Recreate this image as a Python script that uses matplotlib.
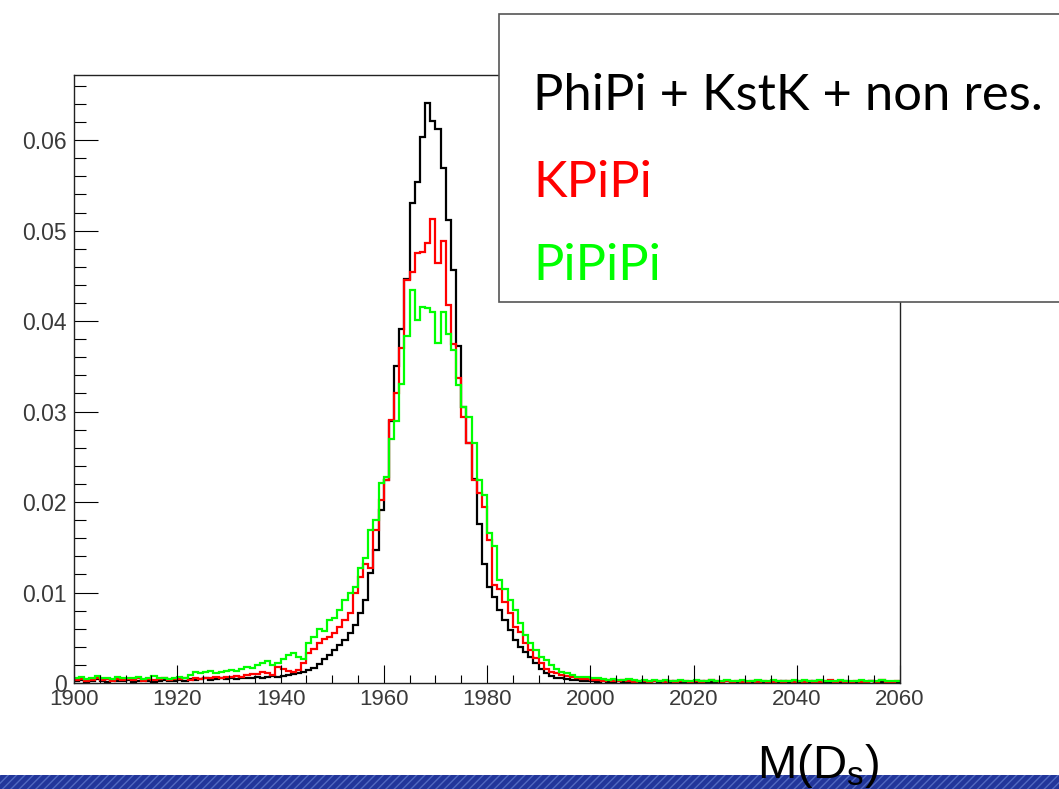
import numpy as np
import matplotlib
matplotlib.use("Agg")
from matplotlib import pyplot as plt
from matplotlib.ticker import MultipleLocator, FuncFormatter
from matplotlib.patches import Rectangle

# 1 MeV bins from 1900 to 2060
edges = np.arange(1900, 2061, 1)

phipi_kstk = [
    0.0002, 0.0003, 0.0001, 0.0002, 0.0004, 0.0002, 0.0001, 0.0003, 0.0002, 0.0002,
    0.0003, 0.0001, 0.0002, 0.0003, 0.0002, 0.0001, 0.0002, 0.0003, 0.0002, 0.0002,
    0.0003, 0.0002, 0.0004, 0.0003, 0.0004, 0.0005, 0.0003, 0.0004, 0.0005, 0.0004,
    0.0005, 0.0004, 0.0006, 0.0005, 0.0006, 0.0007, 0.0006, 0.0007, 0.0008, 0.0007,
    0.0008, 0.0009, 0.0010, 0.0011, 0.0012, 0.0014, 0.0017, 0.0021, 0.0026, 0.0031,
    0.0037, 0.0042, 0.0048, 0.0055, 0.0064, 0.0077, 0.0092, 0.0122, 0.0147, 0.0191,
    0.0224, 0.0290, 0.0350, 0.0391, 0.0447, 0.0530, 0.0554, 0.0604, 0.0641, 0.0621,
    0.0612, 0.0569, 0.0512, 0.0456, 0.0372, 0.0305, 0.0265, 0.0226, 0.0176, 0.0132,
    0.0106, 0.0095, 0.0081, 0.0070, 0.0059, 0.0048, 0.0040, 0.0034, 0.0029, 0.0022,
    0.0015, 0.0011, 0.0008, 0.0006, 0.0005, 0.0004, 0.0003, 0.0003, 0.0002, 0.0002,
    0.0002, 0.0001, 0.0002, 0.0001, 0.0001, 0.0002, 0.0001, 0.0001, 0.0002, 0.0001,
    0.0001, 0.0001, 0.0002, 0.0001, 0.0001, 0.0001, 0.0002, 0.0001, 0.0001, 0.0001,
    0.0001, 0.0002, 0.0001, 0.0001, 0.0001, 0.0001, 0.0002, 0.0001, 0.0001, 0.0001,
    0.0001, 0.0001, 0.0002, 0.0001, 0.0001, 0.0001, 0.0001, 0.0002, 0.0001, 0.0001,
    0.0001, 0.0001, 0.0001, 0.0002, 0.0001, 0.0001, 0.0001, 0.0001, 0.0001, 0.0002,
    0.0001, 0.0001, 0.0001, 0.0001, 0.0002, 0.0001, 0.0001, 0.0001, 0.0001, 0.0001,
]

kpipi = [
    0.0003, 0.0004, 0.0002, 0.0003, 0.0005, 0.0003, 0.0004, 0.0002, 0.0004, 0.0003,
    0.0004, 0.0003, 0.0005, 0.0002, 0.0004, 0.0003, 0.0004, 0.0005, 0.0003, 0.0004,
    0.0004, 0.0005, 0.0003, 0.0005, 0.0004, 0.0006, 0.0005, 0.0007, 0.0006, 0.0007,
    0.0007, 0.0008, 0.0007, 0.0009, 0.0010, 0.0010, 0.0012, 0.0011, 0.0009, 0.0018,
    0.0016, 0.0013, 0.0012, 0.0014, 0.0022, 0.0033, 0.0038, 0.0044, 0.0049, 0.0051,
    0.0055, 0.0062, 0.0070, 0.0077, 0.0099, 0.0117, 0.0132, 0.0127, 0.0169, 0.0202,
    0.0224, 0.0291, 0.0320, 0.0370, 0.0445, 0.0454, 0.0475, 0.0476, 0.0486, 0.0513,
    0.0464, 0.0489, 0.0418, 0.0375, 0.0337, 0.0294, 0.0265, 0.0224, 0.0210, 0.0195,
    0.0158, 0.0108, 0.0104, 0.0090, 0.0077, 0.0062, 0.0056, 0.0044, 0.0036, 0.0028,
    0.0022, 0.0016, 0.0012, 0.0011, 0.0009, 0.0008, 0.0007, 0.0005, 0.0004, 0.0004,
    0.0003, 0.0003, 0.0002, 0.0003, 0.0002, 0.0002, 0.0003, 0.0002, 0.0001, 0.0002,
    0.0002, 0.0001, 0.0002, 0.0002, 0.0001, 0.0002, 0.0001, 0.0002, 0.0002, 0.0001,
    0.0002, 0.0001, 0.0002, 0.0003, 0.0002, 0.0001, 0.0002, 0.0001, 0.0002, 0.0001,
    0.0001, 0.0002, 0.0001, 0.0002, 0.0001, 0.0001, 0.0002, 0.0001, 0.0002, 0.0001,
    0.0002, 0.0001, 0.0002, 0.0001, 0.0001, 0.0002, 0.0003, 0.0001, 0.0002, 0.0001,
    0.0001, 0.0002, 0.0001, 0.0001, 0.0002, 0.0001, 0.0003, 0.0001, 0.0001, 0.0002,
]

pipipi = [
    0.0005, 0.0007, 0.0004, 0.0006, 0.0008, 0.0005, 0.0006, 0.0004, 0.0007, 0.0005,
    0.0006, 0.0005, 0.0007, 0.0004, 0.0006, 0.0008, 0.0005, 0.0006, 0.0004, 0.0006,
    0.0007, 0.0006, 0.0009, 0.0012, 0.0011, 0.0012, 0.0013, 0.0011, 0.0012, 0.0013,
    0.0014, 0.0013, 0.0016, 0.0018, 0.0017, 0.0020, 0.0022, 0.0024, 0.0020, 0.0022,
    0.0026, 0.0031, 0.0033, 0.0029, 0.0027, 0.0044, 0.0051, 0.0060, 0.0058, 0.0070,
    0.0072, 0.0081, 0.0092, 0.0099, 0.0106, 0.0127, 0.0138, 0.0169, 0.0180, 0.0221,
    0.0228, 0.0270, 0.0290, 0.0330, 0.0383, 0.0434, 0.0401, 0.0416, 0.0414, 0.0410,
    0.0376, 0.0410, 0.0386, 0.0368, 0.0329, 0.0305, 0.0294, 0.0265, 0.0224, 0.0208,
    0.0166, 0.0151, 0.0114, 0.0104, 0.0092, 0.0081, 0.0066, 0.0053, 0.0044, 0.0036,
    0.0029, 0.0025, 0.0020, 0.0016, 0.0012, 0.0011, 0.0009, 0.0007, 0.0007, 0.0007,
    0.0005, 0.0005, 0.0004, 0.0003, 0.0004, 0.0003, 0.0003, 0.0004, 0.0003, 0.0002,
    0.0003, 0.0002, 0.0003, 0.0002, 0.0003, 0.0002, 0.0002, 0.0003, 0.0002, 0.0002,
    0.0003, 0.0002, 0.0002, 0.0003, 0.0002, 0.0002, 0.0003, 0.0002, 0.0002, 0.0003,
    0.0002, 0.0002, 0.0003, 0.0002, 0.0002, 0.0003, 0.0002, 0.0002, 0.0002, 0.0003,
    0.0002, 0.0003, 0.0002, 0.0002, 0.0003, 0.0002, 0.0002, 0.0002, 0.0003, 0.0002,
    0.0002, 0.0002, 0.0003, 0.0002, 0.0002, 0.0002, 0.0003, 0.0002, 0.0002, 0.0002,
]

labels = ["PhiPi + KstK + non res.", "KPiPi", "PiPiPi"]
colors = ["black", "#ff0000", "#00ff00"]

plt.rcParams["font.family"] = "Liberation Sans"

W, H = 1059, 789
fig = plt.figure(figsize=(W / 100, H / 100), dpi=100)
ax = fig.add_axes([74 / W, 1 - 683 / H, (900 - 74) / W, (683 - 75) / H])

for vals, c in zip([phipi_kstk, kpipi, pipipi], colors):
    ax.stairs(vals, edges, color=c, lw=1.6, baseline=None)

ax.set_xlim(1900, 2060)
ax.set_ylim(0, 0.0672)
ax.xaxis.set_major_locator(MultipleLocator(20))
ax.xaxis.set_minor_locator(MultipleLocator(5))
ax.yaxis.set_major_locator(MultipleLocator(0.01))
ax.yaxis.set_minor_locator(MultipleLocator(0.002))
ax.yaxis.set_major_formatter(FuncFormatter(lambda v, p: "0" if v == 0 else "%.2f" % v))

ax.tick_params(axis="x", which="major", direction="in", length=13, width=0.8,
               pad=4, labelsize=16, labelcolor="#3a3a3a")
ax.tick_params(axis="x", which="minor", direction="in", length=6, width=0.8)
ax.tick_params(axis="y", which="major", direction="in", length=17, width=0.8,
               pad=5, labelsize=16.5, labelcolor="#3a3a3a")
ax.tick_params(axis="y", which="minor", direction="in", length=8.5, width=0.8)
for s in ax.spines.values():
    s.set_linewidth(1.0)
    s.set_color("#222222")

# legend box laid over the frame
box = Rectangle((499 / W, 1 - 302 / H), (1075 - 499) / W, (302 - 14) / H,
                transform=fig.transFigure, facecolor="white", edgecolor="#555555",
                lw=1.2, zorder=5)
fig.add_artist(box)
for i, (txt, c) in enumerate(zip(labels, colors)):
    base = [110, 197, 280][i]
    fig.text(533 / W, 1 - base / H, txt, color=c, fontsize=36.5, family="Lato",
             va="baseline", ha="left", zorder=6)

# slide footer stripe
stripe = Rectangle((0, 0), 1, 14 / H, transform=fig.transFigure,
                   facecolor="#22369a", edgecolor="#5068c0", hatch="////", lw=0, zorder=1)
fig.add_artist(stripe)

fig.text(757 / W, 1 - 778 / H, r"M(D$_\mathregular{s}$)", fontsize=34,
         va="baseline", ha="left", zorder=6)

fig.savefig("out.png", dpi=100)
